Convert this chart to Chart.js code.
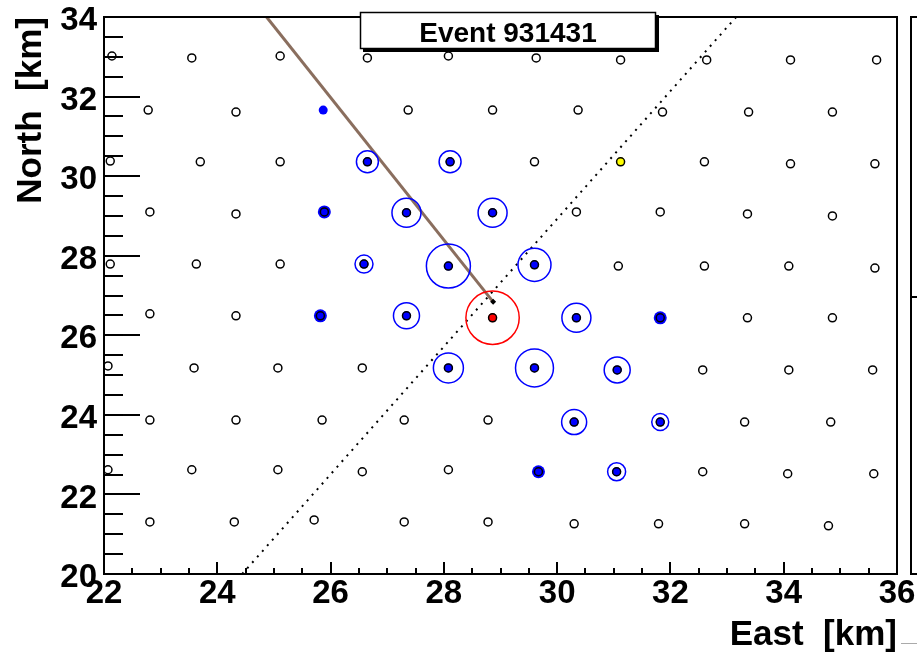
<!DOCTYPE html>
<html>
<head>
<meta charset="utf-8">
<script src="https://cdn.jsdelivr.net/npm/chart.js@4.4.1/dist/chart.umd.min.js"></script>
<style>
  body { margin: 0; background: #fff; }
  canvas { display: block; }
</style>
</head>
<body>
<canvas id="eventChart" width="917" height="653"></canvas>
<script>
// detector stations (km)
const stationX = [
  22.14, 23.55, 25.11, 26.65, 28.08, 29.63, 31.12, 32.64, 34.12, 35.64,
  22.78, 24.33, 27.37, 28.86, 30.37, 31.86, 33.38, 34.86,
  22.11, 23.70, 25.11, 26.65, 28.11, 29.60, 31.12, 32.60, 34.12, 35.61,
  22.81, 24.33, 25.89, 27.34, 28.86, 30.34, 31.82, 33.36, 34.86,
  22.11, 23.63, 25.11, 26.59, 28.08, 29.60, 31.08, 32.60, 34.09, 35.61,
  22.81, 24.33, 25.82, 27.34, 28.86, 30.34, 31.82, 33.36, 34.86,
  22.07, 23.59, 25.07, 26.56, 28.08, 29.60, 31.06, 32.57, 34.09, 35.57,
  22.81, 24.33, 25.85, 27.30, 28.78, 30.30, 31.82, 33.31, 34.83,
  22.07, 23.55, 25.07, 26.56, 28.08, 29.67, 31.05, 32.57, 34.07, 35.59,
  22.81, 24.30, 25.71, 27.30, 28.78, 30.30, 31.79, 33.31, 34.79
];
const stationY = [
  33.02, 32.97, 33.02, 32.97, 33.02, 32.97, 32.92, 32.92, 32.92, 32.92,
  31.66, 31.61, 31.66, 31.66, 31.66, 31.61, 31.61, 31.61,
  30.38, 30.36, 30.36, 30.36, 30.36, 30.36, 30.36, 30.36, 30.31, 30.31,
  29.10, 29.05, 29.10, 29.08, 29.08, 29.10, 29.10, 29.05, 29.00,
  27.79, 27.79, 27.79, 27.79, 27.74, 27.77, 27.74, 27.74, 27.74, 27.69,
  26.54, 26.49, 26.49, 26.49, 26.44, 26.44, 26.44, 26.44, 26.44,
  25.23, 25.18, 25.18, 25.18, 25.18, 25.18, 25.13, 25.13, 25.13, 25.13,
  23.87, 23.87, 23.87, 23.87, 23.87, 23.82, 23.82, 23.82, 23.82,
  22.62, 22.62, 22.62, 22.57, 22.62, 22.57, 22.57, 22.57, 22.52, 22.52,
  21.31, 21.31, 21.36, 21.31, 21.31, 21.26, 21.26, 21.26, 21.21
];

// triggered stations with signal (drawn as rings)
const hitX = [26.65, 28.11, 27.34, 28.86, 26.59, 28.08, 29.60, 27.34, 30.34, 28.08, 29.60, 31.06, 30.30, 31.82, 31.05];
const hitY = [30.36, 30.36, 29.08, 29.08, 27.79, 27.74, 27.77, 26.49, 26.44, 25.18, 25.18, 25.13, 23.82, 23.82, 22.57];
const hitSignal = [13.4, 13.4, 23.4, 23.4, 9, 53.8, 30.3, 18.8, 23.4, 25, 40, 18.8, 17.4, 8, 9];

// triggered stations without ring
const lowX = [25.89, 25.82, 31.82, 29.67];
const lowY = [29.10, 26.49, 26.44, 22.57];
const isolatedX = [25.87];
const isolatedY = [31.66];

// hottest station, rejected station
const coreX = [28.86];
const coreY = [26.44];
const coreSignal = [79];
const rejectX = [31.12];
const rejectY = [30.36];

// shower axis and reconstructed core
const axisX = [24.87, 28.87];
const axisY = [34.0, 26.84];
const sdpX = [24.44, 33.16];
const sdpY = [20.0, 34.0];

const xTicks = { min: 22, max: 36, step: 2 };
const yTicks = { min: 20, max: 34, step: 2 };

const FONT = "'Liberation Sans', Arial, Helvetica, sans-serif";
const pts = (xs, ys) => xs.map((x, i) => ({ x: x, y: ys[i] }));
const ringRadius = (s) => 3 * Math.sqrt(s);

const framePlugin = {
  id: "frame",
  afterDatasetsDraw(chart) {
    const { ctx, chartArea: a, scales } = chart;
    const sx = scales.x, sy = scales.y;
    ctx.save();
    ctx.strokeStyle = "#000";
    ctx.lineWidth = 2;
    ctx.strokeRect(a.left, a.top, a.right - a.left, a.bottom - a.top);
    ctx.beginPath();
    for (let v = xTicks.min; v <= xTicks.max + 0.001; v += 0.5) {
      const px = Math.round(sx.getPixelForValue(v));
      const len = v % 2 === 0 ? 12 : 6;
      ctx.moveTo(px, a.bottom);
      ctx.lineTo(px, a.bottom - len);
    }
    for (let v = yTicks.min; v <= yTicks.max + 0.001; v += 0.5) {
      const py = Math.round(sy.getPixelForValue(v));
      const len = v % 2 === 0 ? 36 : 19;
      ctx.moveTo(a.left, py);
      ctx.lineTo(a.left + len, py);
    }
    ctx.stroke();

    // edge of the neighbouring pad
    ctx.beginPath();
    ctx.moveTo(917, a.top);
    ctx.lineTo(911, a.top);
    ctx.lineTo(911, a.bottom);
    ctx.lineTo(917, a.bottom);
    ctx.moveTo(911, 297);
    ctx.lineTo(917, 297);
    ctx.stroke();
    ctx.strokeStyle = "#aaa";
    ctx.lineWidth = 1;
    ctx.beginPath();
    ctx.moveTo(901, 643.5);
    ctx.lineTo(917, 643.5);
    ctx.stroke();
    ctx.restore();
  },
  afterDraw(chart) {
    const ctx = chart.ctx;
    ctx.save();
    ctx.fillStyle = "#000";
    ctx.fillRect(363, 15, 296, 37);
    ctx.fillStyle = "#fff";
    ctx.fillRect(360, 12, 296, 37);
    ctx.strokeStyle = "#000";
    ctx.lineWidth = 1.5;
    ctx.strokeRect(360.5, 12.5, 295, 36);
    ctx.fillStyle = "#000";
    ctx.font = "bold 28px " + FONT;
    ctx.textAlign = "center";
    ctx.textBaseline = "alphabetic";
    ctx.fillText("Event 931431", 508, 42);
    ctx.restore();
  }
};

const ctx = document.getElementById("eventChart").getContext("2d");

new Chart(ctx, {
  type: "scatter",
  data: {
    datasets: [
      {
        label: "SDP",
        data: pts(sdpX, sdpY),
        showLine: true,
        borderColor: "#000",
        borderWidth: 2,
        borderDash: [2, 5.5],
        pointRadius: 0,
        order: 9
      },
      {
        label: "axis",
        data: pts(axisX, axisY),
        showLine: true,
        borderColor: "#8a6e5e",
        borderWidth: 3,
        pointRadius: 0,
        order: 8
      },
      {
        label: "signal",
        data: pts(hitX, hitY),
        pointRadius: (c) => ringRadius(hitSignal[c.dataIndex]),
        pointBorderColor: "#0000ff",
        pointBackgroundColor: "rgba(0,0,0,0)",
        pointBorderWidth: 1.5,
        clip: false,
        order: 7
      },
      {
        label: "core signal",
        data: pts(coreX, coreY),
        pointRadius: (c) => ringRadius(coreSignal[c.dataIndex]),
        pointBorderColor: "#ff0000",
        pointBackgroundColor: "rgba(0,0,0,0)",
        pointBorderWidth: 1.5,
        clip: false,
        order: 7
      },
      {
        label: "hit",
        data: pts(hitX, hitY),
        pointRadius: 4.5,
        pointBackgroundColor: "#0000ff",
        pointBorderWidth: 0,
        clip: false,
        order: 6
      },
      {
        label: "low",
        data: pts(lowX, lowY),
        pointRadius: 6.5,
        pointBackgroundColor: "#0000ff",
        pointBorderWidth: 0,
        clip: false,
        order: 6
      },
      {
        label: "isolated",
        data: pts(isolatedX, isolatedY),
        pointRadius: 4.5,
        pointBackgroundColor: "#0000ff",
        pointBorderWidth: 0,
        clip: false,
        order: 6
      },
      {
        label: "hottest",
        data: pts(coreX, coreY),
        pointRadius: 4.5,
        pointBackgroundColor: "#ff0000",
        pointBorderWidth: 0,
        clip: false,
        order: 6
      },
      {
        label: "rejected",
        data: pts(rejectX, rejectY),
        pointRadius: 4.5,
        pointBackgroundColor: "#ffff00",
        pointBorderWidth: 0,
        clip: false,
        order: 6
      },
      {
        label: "stations",
        data: pts(stationX, stationY),
        pointRadius: 4,
        pointBorderColor: "#000",
        pointBackgroundColor: "rgba(0,0,0,0)",
        pointBorderWidth: 1.5,
        clip: false,
        order: 5
      },
      {
        label: "core",
        data: pts(axisX.slice(1), axisY.slice(1)),
        pointStyle: "rectRot",
        pointRadius: 3,
        pointBackgroundColor: "#000",
        pointBorderWidth: 0,
        clip: false,
        order: 4
      }
    ]
  },
  options: {
    responsive: false,
    animation: false,
    devicePixelRatio: 1,
    events: [],
    layout: { autoPadding: false, padding: { left: 0, right: 20, top: 17, bottom: 0 } },
    plugins: {
      legend: { display: false },
      tooltip: { enabled: false }
    },
    scales: {
      x: {
        type: "linear",
        min: xTicks.min,
        max: xTicks.max,
        grid: { display: false, drawTicks: false },
        border: { display: false },
        ticks: {
          stepSize: xTicks.step,
          autoSkip: false,
          maxRotation: 0,
          padding: 3,
          color: "#000",
          font: { family: FONT, size: 33, weight: "bold", lineHeight: 1 }
        },
        title: {
          display: true,
          text: "East  [km]",
          align: "end",
          color: "#000",
          padding: { top: 0, bottom: 0 },
          font: { family: FONT, size: 35, weight: "bold", lineHeight: 1 }
        },
        afterFit: (scale) => {
          scale.height = 79;
          scale.paddingLeft = 0;
          scale.paddingRight = 0;
        }
      },
      y: {
        type: "linear",
        min: yTicks.min,
        max: yTicks.max,
        grid: { display: false, drawTicks: false },
        border: { display: false },
        ticks: {
          stepSize: yTicks.step,
          autoSkip: false,
          padding: 7,
          labelOffset: 4,
          color: "#000",
          font: { family: FONT, size: 33, weight: "bold", lineHeight: 1 }
        },
        title: {
          display: true,
          text: "North  [km]",
          align: "end",
          color: "#000",
          padding: { top: 14, bottom: 0 },
          font: { family: FONT, size: 35, weight: "bold", lineHeight: 1 }
        },
        afterFit: (scale) => {
          scale.width = 104;
          scale.paddingTop = 0;
          scale.paddingBottom = 0;
        }
      }
    }
  },
  plugins: [framePlugin]
});
</script>
</body>
</html>
